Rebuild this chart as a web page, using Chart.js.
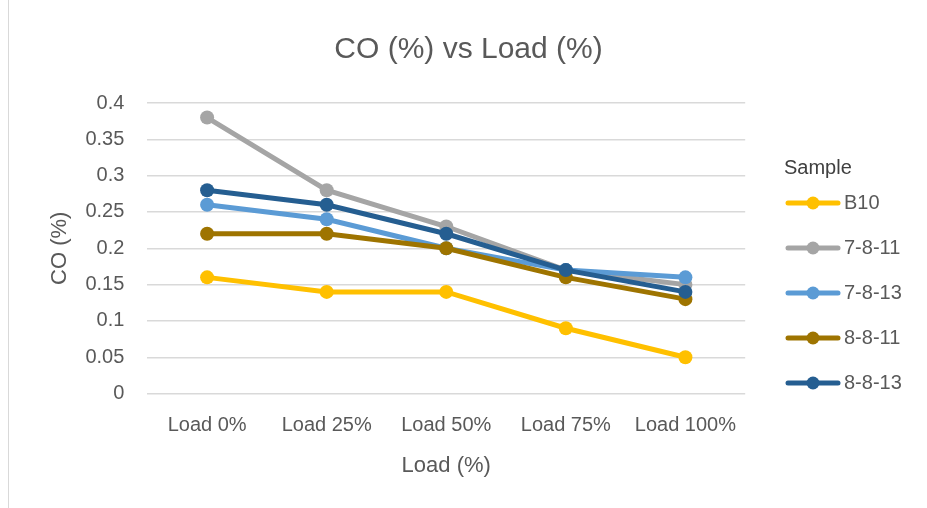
<!DOCTYPE html>
<html>
<head>
<meta charset="utf-8">
<script src="https://cdn.jsdelivr.net/npm/chart.js@4/dist/chart.umd.min.js"></script>
<style>
  html, body { margin: 0; padding: 0; background: #fff; }
  #wrap { position: relative; width: 927px; height: 508px; }
  #frame { position: absolute; left: 8px; top: 0; width: 1px; height: 508px; background: #D9D9D9; }
</style>
</head>
<body>
<div id="wrap">
  <div id="frame"></div>
  <canvas id="chart" width="927" height="508"></canvas>
</div>
<script>
// CO emissions by engine load for each fuel sample
const loads = ['Load 0%', 'Load 25%', 'Load 50%', 'Load 75%', 'Load 100%'];
const sampleNames = ['B10', '7-8-11', '7-8-13', '8-8-11', '8-8-13'];
const b10    = [0.16, 0.14, 0.14, 0.09, 0.05];
const s7811  = [0.38, 0.28, 0.23, 0.17, 0.15];
const s7813  = [0.26, 0.24, 0.20, 0.17, 0.16];
const s8811  = [0.22, 0.22, 0.20, 0.16, 0.13];
const s8813  = [0.28, 0.26, 0.22, 0.17, 0.14];
const yTickLabels = ['0', '0.05', '0.1', '0.15', '0.2', '0.25', '0.3', '0.35', '0.4'];

const colors = ['#FFC000', '#A5A5A5', '#5B9BD5', '#9E7400', '#255E91'];
const seriesValues = [b10, s7811, s7813, s8811, s8813];

const FONT = '"Liberation Sans", Arial, sans-serif';
const LEGEND_PAD = 25;

// Legend marker: short line with a dot in the middle
function legendIcon(color) {
  const c = document.createElement('canvas');
  c.width = 56; c.height = 16;
  const g = c.getContext('2d');
  g.strokeStyle = color; g.lineWidth = 5; g.lineCap = 'round';
  g.beginPath(); g.moveTo(3, 8); g.lineTo(53, 8); g.stroke();
  g.fillStyle = color;
  g.beginPath(); g.arc(28, 8, 6.5, 0, Math.PI * 2); g.fill();
  return c;
}
const icons = colors.map(legendIcon);

// Places the legend block and writes its heading above the first entry
const legendPlacement = {
  id: 'legendPlacement',
  afterLayout(chart) {
    const lg = chart.legend;
    if (!lg) return;
    const w = lg.width, h = lg.height;
    lg.left = 792 - LEGEND_PAD; lg.right = lg.left + w;
    lg.top = 168; lg.bottom = lg.top + h;
  },
  afterDraw(chart) {
    const lg = chart.legend;
    if (!lg || !lg.legendHitBoxes.length) return;
    const first = lg.legendHitBoxes[0];
    const ctx = chart.ctx;
    ctx.save();
    ctx.font = '20px ' + FONT;
    ctx.fillStyle = '#404040';
    ctx.textAlign = 'left';
    ctx.textBaseline = 'middle';
    ctx.fillText('Sample', first.left - 8, first.top + first.height / 2 - 35);
    ctx.restore();
  }
};

const datasets = sampleNames.map((name, i) => ({
  label: name,
  data: seriesValues[i],
  borderColor: colors[i],
  backgroundColor: colors[i],
  borderWidth: 5,
  pointRadius: 7,
  pointHoverRadius: 7,
  pointBorderWidth: 0,
  pointStyle: 'circle',
  tension: 0,
  order: sampleNames.length - i
}));

new Chart(document.getElementById('chart'), {
  type: 'line',
  data: { labels: loads, datasets },
  plugins: [legendPlacement],
  options: {
    responsive: false,
    animation: false,
    layout: { padding: { top: 20, left: 47, right: 37, bottom: 25 } },
    plugins: {
      title: {
        display: true,
        text: 'CO (%) vs Load (%)',
        color: '#595959',
        font: { family: FONT, size: 30, weight: 'normal' },
        padding: { top: 12, bottom: 35 }
      },
      legend: {
        position: 'right',
        align: 'start',
        labels: {
          usePointStyle: true,
          pointStyleWidth: 42,
          color: '#595959',
          font: { family: FONT, size: 20 },
          padding: LEGEND_PAD,
          sort: (a, b) => a.datasetIndex - b.datasetIndex,
          generateLabels: (chart) =>
            Chart.defaults.plugins.legend.labels.generateLabels(chart)
              .map(l => ({ ...l, pointStyle: icons[l.datasetIndex] }))
        }
      },
      tooltip: { enabled: false }
    },
    scales: {
      x: {
        offset: true,
        grid: { display: false, offset: true },
        border: { display: false },
        ticks: { color: '#595959', font: { family: FONT, size: 20 }, padding: 12 },
        title: {
          display: true, text: 'Load (%)', color: '#595959',
          font: { family: FONT, size: 22 }, padding: { top: 3, bottom: 4 }
        }
      },
      y: {
        min: 0, max: 0.4,
        grid: { color: '#D9D9D9', lineWidth: 1.5, drawTicks: false },
        border: { display: false },
        ticks: {
          stepSize: 0.05,
          color: '#595959',
          font: { family: FONT, size: 20 },
          padding: 23,
          callback: (v) => yTickLabels[Math.round(v / 0.05)]
        },
        title: {
          display: true, text: 'CO (%)', color: '#595959',
          font: { family: FONT, size: 22 }, padding: { top: 0, bottom: -11 }
        }
      }
    }
  }
});
</script>
</body>
</html>
